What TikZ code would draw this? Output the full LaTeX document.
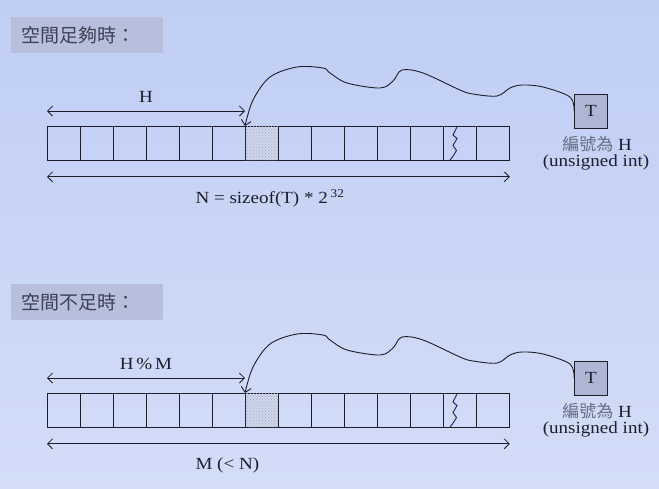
\documentclass[tikz,border=0pt]{standalone}
\usepackage{fontspec}
\setmainfont{Liberation Serif}[FakeStretch=1.12]
\newfontfamily\cjk{Noto Sans CJK TC}
\usetikzlibrary{arrows.meta,patterns}
\definecolor{bgtop}{HTML}{C0CEF5}
\definecolor{bgbot}{HTML}{D3DDF8}
\definecolor{headgray}{HTML}{B8BFDC}
\definecolor{tgray}{HTML}{AEB6D6}
\definecolor{hitfill}{HTML}{CDD6EE}
\definecolor{ink}{HTML}{1C1E2C}
\definecolor{cjkgray}{HTML}{3E4256}
\definecolor{idgray}{HTML}{666C80}
\definecolor{zig}{HTML}{26306A}

\begin{document}
\begin{tikzpicture}[x=1pt,y=-1pt,>={Straight Barb[length=5pt,width=10pt]}]
\tikzstyle{every node}=[text=ink,font=\fontsize{17}{20}\selectfont]
\tikzstyle{cell}=[draw=ink,line width=0.8pt,minimum width=33pt,minimum height=34pt,
  inner sep=0pt,anchor=north west]
\tikzstyle{hit}=[fill=hitfill,postaction={pattern=crosshatch dots,pattern color=idgray!55}]
\tikzstyle{headbox}=[anchor=west,fill=headgray,text=cjkgray,minimum height=36pt,
  text width=132pt,inner xsep=10pt,font=\fontsize{19}{23}\selectfont]
\tikzstyle{tbox}=[draw=ink,line width=0.8pt,fill=tgray,minimum width=33pt,minimum height=34pt,inner sep=0pt]
\tikzstyle{idlab}=[inner ysep=0pt]
\tikzstyle{dim}=[<->,draw=ink,line width=0.8pt]
\tikzstyle{wave}=[->,draw=ink,line width=0.9pt]
\tikzstyle{zigline}=[draw=zig,line width=1pt]
\fill[top color=bgtop,bottom color=bgbot] (0,0) rectangle (659,488);
\foreach \p/\dy/\head/\lenlab/\totlab in {a/0/空間足夠時：/H/{N = sizeof(T) * 2\,\textsuperscript{32}},
  b/267/空間不足時：/{H\,\%\,M}/{M (< N)}}{
\begin{scope}[shift={(0,\dy)}]
\node[headbox] (\p head) at (11,35) {\cjk\head};
\foreach \i in {0,...,13}
  \node[cell] (\p c\i) at (47+33*\i,126) {};
\node[cell,hit] (\p hit) at (\p c6.north west) {};
\draw[zigline] ([xshift=14pt,yshift=-1pt]\p c12.north west) -- ++(-4,8) -- ++(4,3.5)
  -- ++(-4,7) -- ++(3.5,5) -- ++(-4,6.5) -- ++(-2.5,3);
\draw[dim] ([yshift=15pt]\p c0.north west) -- ([yshift=15pt]\p c6.north west)
  node[midway,yshift=14.5pt] (\p len) {\lenlab};
\draw[dim] ([yshift=-16pt]\p c0.south west) -- ([yshift=-16pt]\p c13.south east);
\node[anchor=west] (\p tot) at (192,198) {\totlab};
\node[tbox] (\p T) at (591,111) {T};
\node[idlab] (\p id) at (597,144) {{\cjk\color{idgray}編號為} H};
\node[idlab] (\p ut) at (596,162) {(unsigned int)};
\draw[wave] plot[smooth,tension=0.55] coordinates {(\p T.west) (570,97) (543,87) (522,85)
  (510,88) (497,96) (473,94) (460,90) (423,73) (402,70) (393,81) (380,88) (347,83)
  (330,73) (323,68) (297,67) (270,77) (253,100) (\p c6.north west)};
\end{scope}
}
\end{tikzpicture}
\end{document}
